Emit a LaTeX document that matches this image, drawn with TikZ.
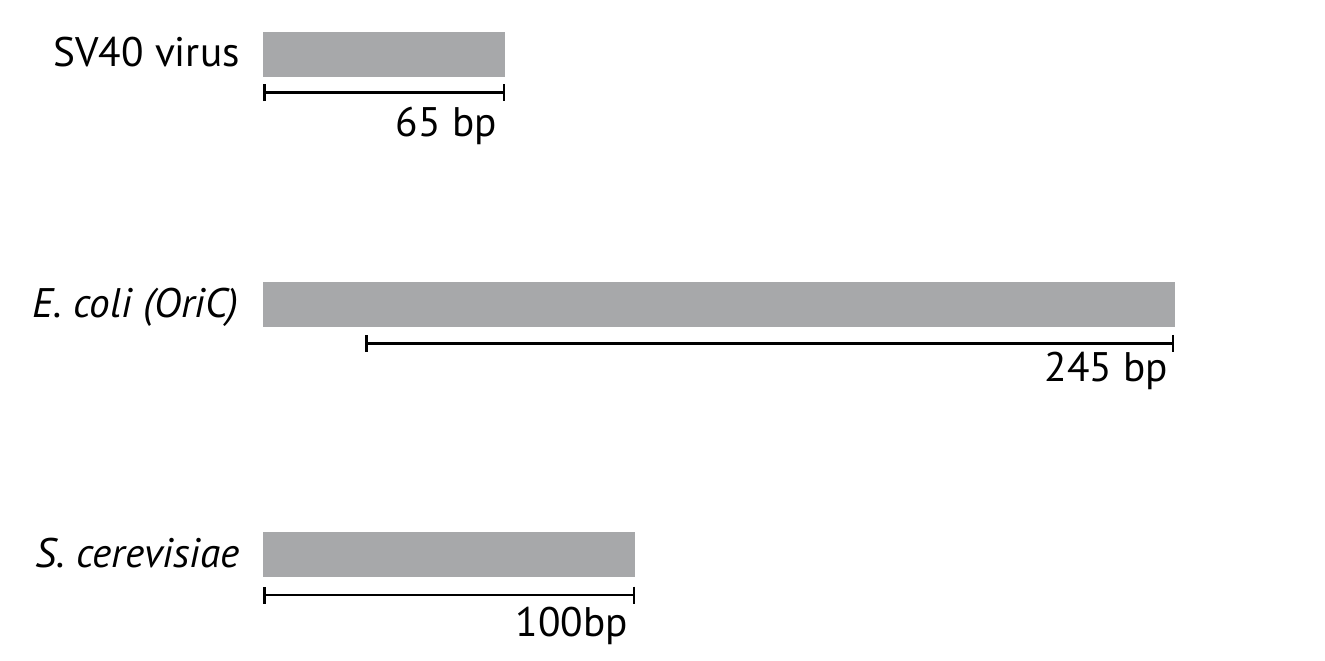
\documentclass[tikz,border=0pt]{standalone}
\usepackage{fontspec}
\setmainfont{PT Sans}
\usepackage{xcolor}
\usepackage{tikz}
\usetikzlibrary{positioning,arrows.meta}

\definecolor{bargray}{HTML}{A7A8AA}

\begin{document}
\begin{tikzpicture}[
    x=0.02cm, y=-0.02cm,
    bar/.style={rectangle, fill=bargray, inner sep=0pt, anchor=north west, minimum height=0.9cm},
    lbl/.style={anchor=base east, inner sep=0pt, font=\fontsize{23.5}{27}\selectfont},
    len/.style={anchor=base east, inner sep=0pt, font=\fontsize{23.5}{27}\selectfont},
    scalebar/.style={line width=0.05cm, {Bar[width=0.34cm]}-{Bar[width=0.34cm]}}
]
    \useasboundingbox (0,0) rectangle (1325,660);

    % Origin regions
    \node[bar, minimum width=4.84cm] (sv40) at (263,32) {};
    \node[bar, minimum width=18.24cm] (ecoli) at (263,282) {};
    \node[bar, minimum width=7.44cm] (yeast) at (263,532) {};

    % Organism names
    \node[lbl] (sv40lbl) at (240,66.7) {SV40 virus};
    \node[lbl] (ecolilbl) at (239,317) {\textit{E. coli (OriC)}};
    \node[lbl] (yeastlbl) at (240,567) {\textit{S. cerevisiae}};

    % Scale bars
    \coordinate (sv40a) at (263,92.7);
    \coordinate (sv40b) at (505,92.7);
    \coordinate (ecolia) at (365,343.3);
    \coordinate (ecolib) at (1174,343.3);
    \coordinate (yeasta) at (263,595);
    \coordinate (yeastb) at (635,595);
    \draw[scalebar] (sv40a) -- (sv40b);
    \draw[scalebar] (ecolia) -- (ecolib);
    \draw[scalebar] (yeasta) -- (yeastb);

    % Lengths
    \node[len] (sv40len) at (497,136.7) {65 bp};
    \node[len] (ecolilen) at (1168,381.7) {245 bp};
    \node[len] (yeastlen) at (628,636) {100bp};
\end{tikzpicture}
\end{document}
